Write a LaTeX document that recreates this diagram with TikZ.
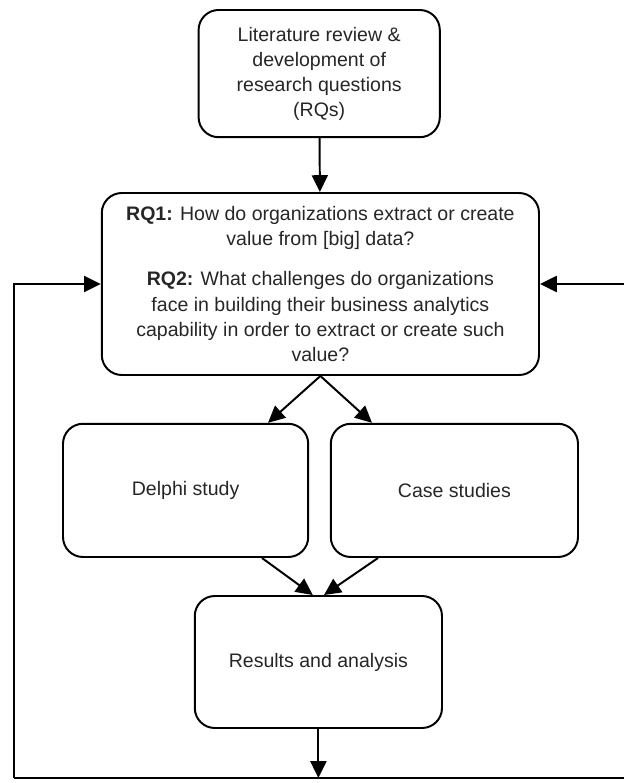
\documentclass[tikz,border=0pt]{standalone}
\usepackage{fontspec}
\setmainfont{Liberation Sans}
\usetikzlibrary{arrows.meta}
\begin{document}
\begin{tikzpicture}[line width=1.4pt, >={Triangle[length=0.42cm, width=0.4cm]},
  box/.style={draw, rounded corners=0.5cm, align=center, inner sep=0pt, text=black!85,
    font=\fontsize{13.9pt}{17.8pt}\selectfont}]
\useasboundingbox (0,0) rectangle (15.6,-19.575);

\node[box, minimum width=6.03cm, minimum height=3.18cm] (lit) at (7.98, -1.84) {Literature review \&\\development of\\research questions\\(RQs)};

\node[box, minimum width=10.93cm, minimum height=4.55cm] (rq) at (8.01, -7.1) {\textbf{RQ1:} How do organizations extract or create\\value from [big] data?\\[10.7pt]\textbf{RQ2:} What challenges do organizations\\face in building their business analytics\\capability in order to extract or create such\\value?};

\node[box, minimum width=6.13cm, minimum height=3.33cm] (delphi) at (4.64, -12.26) {Delphi study};
\node[box, minimum width=6.18cm, minimum height=3.33cm] (cases) at (11.36, -12.26) {Case studies};

\node[box, minimum width=6.18cm, minimum height=3.3cm] (res) at (7.96, -16.55) {Results and analysis};

\coordinate (bl) at (0.35, -19.45);
\coordinate (br) at (15.6, -19.45);

\draw[->] (lit) -- (rq);

\draw[->] (rq.south) -- ([xshift=2.06cm]delphi.north);
\draw[->] (rq.south) -- ([xshift=-2.06cm]cases.north);

\draw[->] ([xshift=1.91cm]delphi.south) -- ([xshift=-0.14cm]res.north);
\draw[->] ([xshift=-1.91cm]cases.south) -- ([xshift=0.14cm]res.north);

\draw[->] (res.south) -- (res.south |- bl);
\draw (br) -- (bl);
\draw[->] (bl) -- (bl |- rq.west) -- (rq.west);
\draw[->] (rq.east -| br) -- (rq.east);
\end{tikzpicture}
\end{document}
